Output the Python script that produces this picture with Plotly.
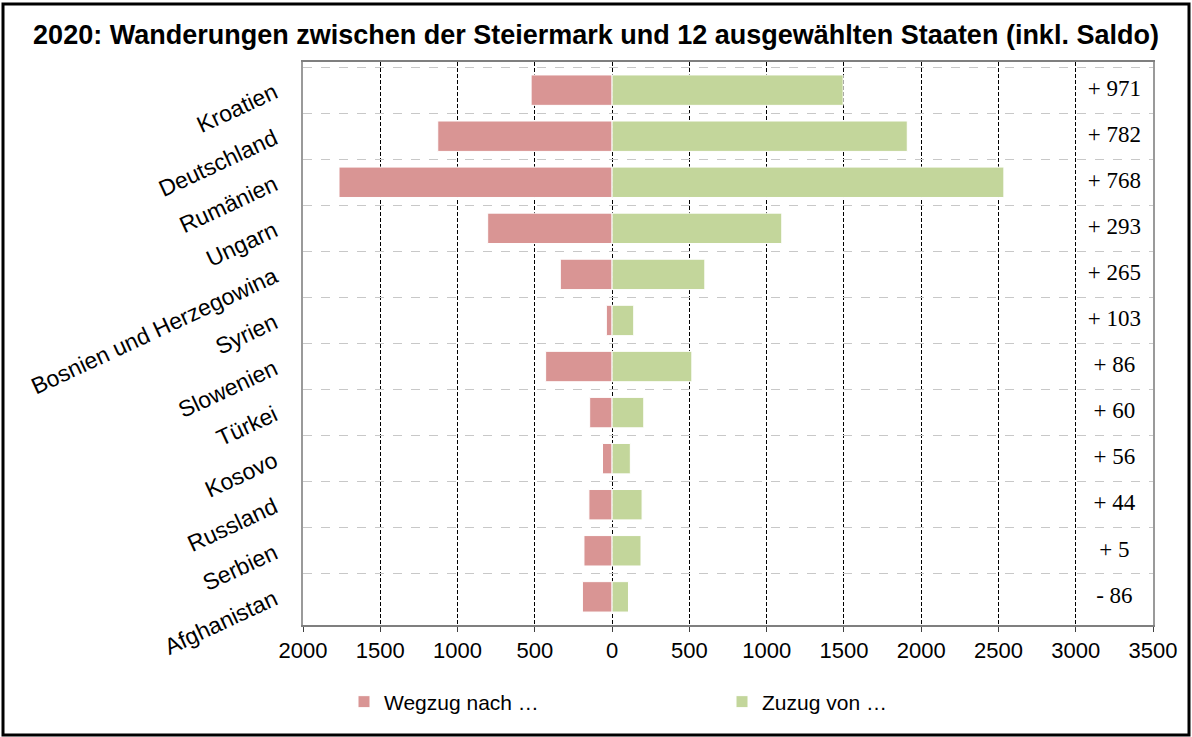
import plotly.graph_objects as go

# Daten: Wanderungen 2020 Steiermark
laender = ["Kroatien", "Deutschland", "Rumänien", "Ungarn", "Bosnien und Herzegowina",
           "Syrien", "Slowenien", "Türkei", "Kosovo", "Russland", "Serbien", "Afghanistan"]
wegzug = [524, 1128, 1767, 805, 335, 37, 430, 145, 62, 150, 182, 192]
zuzug = [1495, 1910, 2535, 1098, 600, 140, 516, 205, 118, 194, 187, 106]
saldo = [971, 782, 768, 293, 265, 103, 86, 60, 56, 44, 5, -86]

tick_werte = [-2000, -1500, -1000, -500, 0, 500, 1000, 1500, 2000, 2500, 3000, 3500]
tick_texte = [str(abs(v)) for v in tick_werte]

saldo_text = [("+ " if s >= 0 else "- ") + str(abs(s)) for s in saldo]

W, H = 1192, 737
L, R, T, B = 303, 39, 62, 112
pw, ph = W - L - R, H - T - B

fig = go.Figure()

fig.add_trace(go.Bar(
    y=laender, x=[-v for v in wegzug], orientation="h",
    name="Wegzug nach …",
    marker=dict(color="#D99594", line=dict(color="white", width=1)),
))
fig.add_trace(go.Bar(
    y=laender, x=zuzug, orientation="h",
    name="Zuzug von …",
    marker=dict(color="#C3D69B", line=dict(color="white", width=1)),
))
# Saldo-Spalte rechts
fig.add_trace(go.Scatter(
    y=laender, x=[3250] * len(laender), mode="text",
    text=saldo_text, showlegend=False,
    textfont=dict(family="Liberation Serif, Times New Roman, serif", size=23, color="black"),
))

fig.update_layout(
    width=W, height=H,
    barmode="relative",
    bargap=0.34,
    plot_bgcolor="white",
    paper_bgcolor="white",
    margin=dict(l=L, r=R, t=T, b=B),
    title=dict(
        text="<b>2020: Wanderungen zwischen der Steiermark und 12 ausgewählten Staaten (inkl. Saldo)</b>",
        x=0.5, xref="container", xanchor="center",
        y=1 - 35 / H, yanchor="middle",
        font=dict(family="Liberation Sans, Arial", size=27, color="black"),
    ),
    xaxis=dict(
        range=[-2000, 3500],
        tickvals=tick_werte, ticktext=tick_texte,
        tickfont=dict(family="Liberation Sans, Arial", size=22, color="black"),
        showgrid=True, gridcolor="black", griddash="4px,2px", gridwidth=1,
        zeroline=False,
        showline=True, linecolor="#7f7f7f", linewidth=2, mirror=True,
        ticks="outside", ticklen=5, tickcolor="#404040",
        fixedrange=True,
    ),
    yaxis=dict(
        autorange="reversed",
        tickson="boundaries",
        showgrid=True, gridcolor="#c8c8c8", griddash="dash", gridwidth=1,
        showline=True, linecolor="#9a9a9a", linewidth=2, mirror=True,
        ticks="", tickangle=-25, ticklabelstandoff=22,
        tickfont=dict(family="Liberation Sans, Arial", size=23, color="black"),
        fixedrange=True,
    ),
    legend=dict(
        orientation="h",
        x=(344 - L) / pw, xanchor="left",
        y=-(702 - (T + ph)) / ph, yanchor="middle",
        entrywidth=333,
        font=dict(family="Liberation Sans, Arial", size=21, color="black"),
        traceorder="normal",
    ),
    shapes=[dict(
        type="rect", xref="paper", yref="paper",
        x0=(3 - L) / pw, x1=(W - 3 - L) / pw,
        y0=-(H - 2 - T - ph) / ph, y1=1 + (T - 4) / ph,
        line=dict(color="black", width=3),
    )],
    showlegend=True,
)

fig.write_html("out.html", config={"displayModeBar": False},
               post_script="document.body.style.margin='0px';")
